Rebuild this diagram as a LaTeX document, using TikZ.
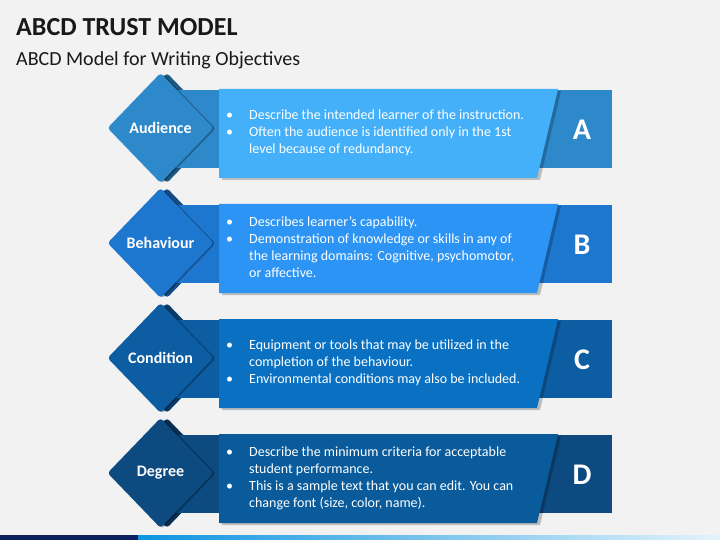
\documentclass[tikz,border=0pt]{standalone}
\usepackage{fontspec}
\setmainfont{Carlito}
\usetikzlibrary{shapes.geometric}

\definecolor{bggray}{HTML}{F2F2F2}
\definecolor{bandA}{HTML}{2E89CB}
\definecolor{boxA}{HTML}{44B0FA}
\definecolor{bandB}{HTML}{1E77CF}
\definecolor{boxB}{HTML}{2C94F4}
\definecolor{bandC}{HTML}{0D5DA3}
\definecolor{boxC}{HTML}{0A71C2}
\definecolor{bandD}{HTML}{0C4A80}
\definecolor{boxD}{HTML}{0A5B9B}
\definecolor{navy}{HTML}{0C1F5E}
\definecolor{barblue}{HTML}{0E94E0}
\definecolor{barlight}{HTML}{E4F3FB}

\newcommand\bul{\makebox[23pt][l]{\textbullet}}

\begin{document}
\begin{tikzpicture}[
  x=1pt, y=-1pt,
  dia/.style={diamond, minimum width=106pt, minimum height=110pt, inner sep=0pt,
    rounded corners=3pt, text=white, font=\fontsize{16}{19}\selectfont\bfseries},
  letter/.style={text=white, inner sep=0pt, font=\fontsize{30}{36}\selectfont\bfseries},
  bullets/.style={anchor=west, text=white, inner sep=0pt, font=\fontsize{14}{17}\selectfont}
]
  \fill[bggray] (0,0) rectangle (720,540);
  \useasboundingbox (0,0) rectangle (720,540);

  \node[anchor=base west, inner sep=0pt, text=black!90, font=\fontsize{26}{30}\selectfont\bfseries]
    (title) at (16,36) {ABCD TRUST MODEL};
  \node[anchor=base west, inner sep=0pt, text=black!90, font=\fontsize{20}{24}\selectfont]
    (subtitle) at (16,66) {ABCD Model for Wri{}ting Objec{}tives};

  \foreach \lab/\ltr/\dk/\lt/\txt [count=\i from 0] in {
    Audience/A/bandA/boxA/{\bul & Describe the intended learner of the instruction.\\
      \bul & Often the audience is identified only in the 1st\\ & level because of redundancy.},
    Behaviour/B/bandB/boxB/{\bul & Describes learner’s capability.\\
      \bul & Demonstration of knowledge or skills in any of\\
      & the learning domains: Cognitive, psychomotor,\\ & or affective.},
    Condition/C/bandC/boxC/{\bul & Equipment or tools that may be utilized in the\\
      & completion of the behaviour.\\ \bul & Environmental conditions may also be included.},
    Degree/D/bandD/boxD/{\bul & Describe the minimum criteria for acceptable\\
      & student performance.\\ \bul & This is a sample text that you can edit. You can\\
      & change font (size, color, name).}} {
    % fold behind the diamond, then the band
    \node[dia, fill=\dk!65!black] (fold\ltr) at (167,128+115*\i) {};
    \fill[\dk] (176,90+115*\i) rectangle (612,168+115*\i);
    \node[dia, fill=black, opacity=0.3] (shd\ltr) at (162.5,128.5+115*\i) {};
    \node[dia, fill=\dk] (dia\ltr) at (160.5,128+115*\i) {\lab};
    % text panel
    \fill[black, opacity=0.22] (222,91+115*\i) -- (561,91+115*\i) -- (540,180+115*\i) -- (222,180+115*\i) -- cycle;
    \fill[\lt] (219,89+115*\i) -- (558,89+115*\i) -- (537,178+115*\i) -- (219,178+115*\i) -- cycle;
    \node[bullets] (txt\ltr) at (226,133.5+115*\i) {\begin{tabular}{@{}l@{}l@{}}\txt\end{tabular}};
    \node[letter] (let\ltr) at (582,130+115*\i) {\ltr};
  }

  \fill[navy] (0,535) rectangle (138,540);
  \shade[left color=barblue, right color=barlight] (138,535) rectangle (720,540);
\end{tikzpicture}
\end{document}
